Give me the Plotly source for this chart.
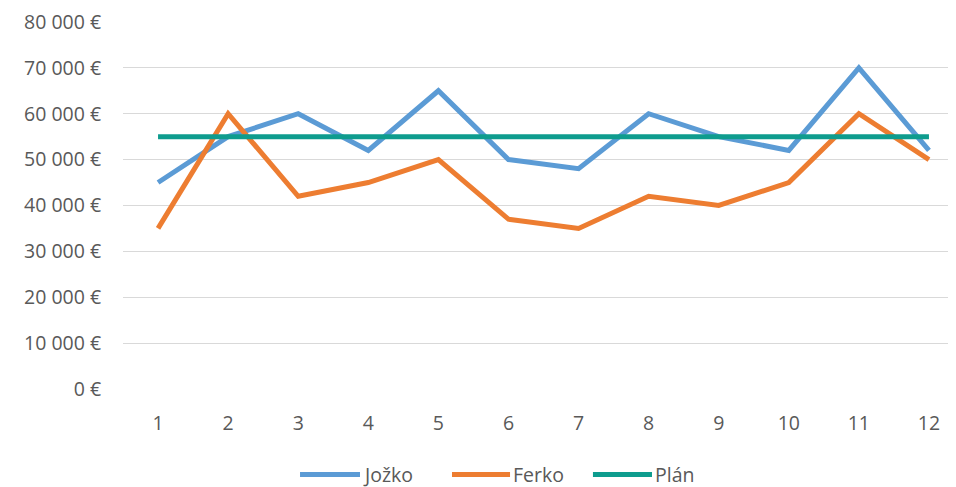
import plotly.graph_objects as go

months = list(range(1, 13))
jozko = [45000, 55000, 60000, 52000, 65000, 50000, 48000, 60000, 55000, 52000, 70000, 52000]
ferko = [35000, 60000, 42000, 45000, 50000, 37000, 35000, 42000, 40000, 45000, 60000, 50000]
plan = [55000] * 12
y_ticks = list(range(0, 80001, 10000))
y_labels = [("{:,}".format(v).replace(",", " ") + " €") for v in y_ticks]

series = [("Jožko", jozko, "#5B9BD5"), ("Ferko", ferko, "#ED7D31"), ("Plán", plan, "#0E9C8E")]

fig = go.Figure()
for name, vals, color in series:
    fig.add_trace(go.Scatter(x=months, y=vals, mode="lines", name=name,
                             line=dict(color=color, width=5), showlegend=False))

font = dict(family="Open Sans, Noto Sans, sans-serif", size=19.5, color="#595959")

# custom legend (wide line symbols), positions in paper fractions
legend_items = [(0.2105, 0.2818, "Jožko"), (0.3912, 0.4602, "Ferko"), (0.5588, 0.6290, "Plán")]
for (x0, x1, name), (_, _, color) in zip(legend_items, series):
    fig.add_shape(type="line", xref="paper", yref="paper", x0=x0, x1=x1,
                  y0=-0.232, y1=-0.232, line=dict(color=color, width=5))
    fig.add_annotation(xref="paper", yref="paper", x=x1 + 0.001, y=-0.232, text=name,
                       showarrow=False, xanchor="left", yanchor="middle", font=font)

fig.update_layout(
    width=956, height=487,
    margin=dict(l=115, r=0, t=10, b=106),
    paper_bgcolor="white", plot_bgcolor="white",
    font=font,
    xaxis=dict(range=[0.5, 12.5], tickvals=months, ticktext=[str(m) for m in months],
               showgrid=False, zeroline=False, showline=False, ticks="outside",
               ticklen=17, tickcolor="rgba(0,0,0,0)"),
    yaxis=dict(range=[0, 80200], tickvals=y_ticks, ticktext=y_labels,
               showgrid=True, gridcolor="#D9D9D9", gridwidth=1, zeroline=False,
               showline=False, ticks="outside", ticklen=17, tickcolor="rgba(0,0,0,0)",
               ticklabeloverflow="allow"),
)

fig.write_html("out.html")
